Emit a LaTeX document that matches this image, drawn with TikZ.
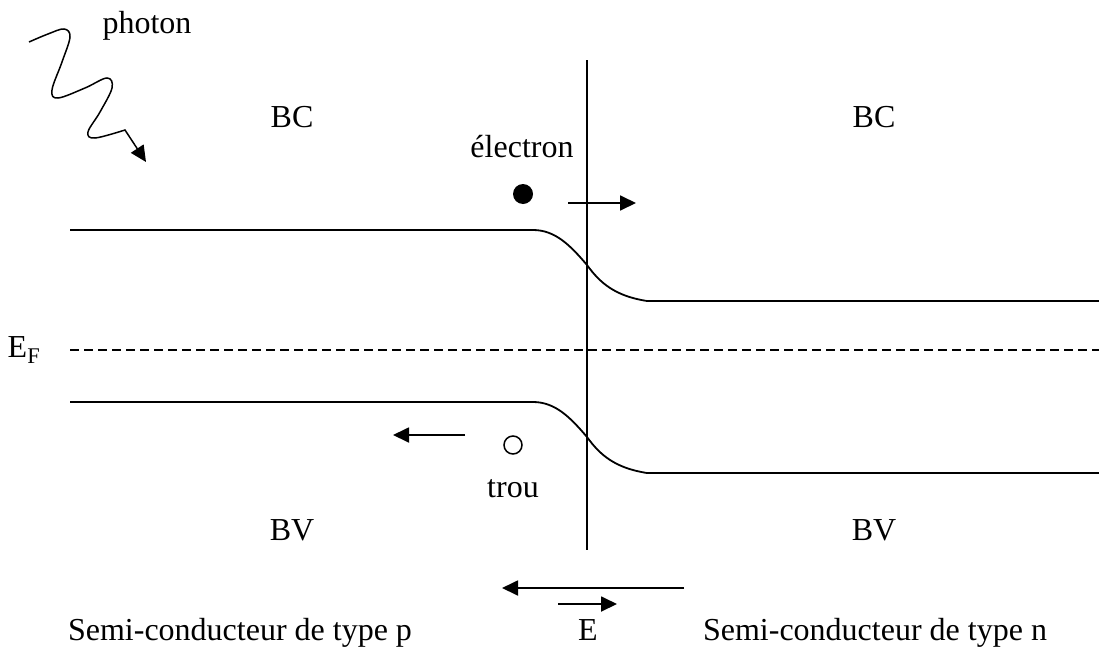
\documentclass[tikz,border=0pt]{standalone}
\usepackage{fontspec}
\setmainfont{Liberation Serif}
\usetikzlibrary{arrows.meta}
\begin{document}
\begin{tikzpicture}[x=1pt,y=-1pt,
  line width=1.8pt,
  lbl/.style={inner sep=0pt,anchor=base,font=\fontsize{32}{38}\selectfont},
  arr/.style={-{Triangle[length=16pt,width=15pt]}},
  band/.style={line width=1.8pt},
  fermi/.style={line width=1.5pt,dash pattern=on 9pt off 5pt}]
\useasboundingbox (0,0) rectangle (1099,653);
% vertical junction line
\coordinate (jt) at (587,60);
\coordinate (jb) at (587,550);
\draw (jt) -- (jb);
% bands
\coordinate (c1) at (70,230);
\coordinate (c2) at (533,230);
\coordinate (c3) at (647,301);
\coordinate (c4) at (1099,301);
\draw[band] (c1) -- (c2) .. controls (555,230) and (570,245) .. (587,265)
  .. controls (600,283) and (615,296) .. (c3) -- (c4);
\coordinate (v1) at (70,402);
\coordinate (v2) at (533,402);
\coordinate (v3) at (647,473);
\coordinate (v4) at (1099,473);
\draw[band] (v1) -- (v2) .. controls (555,402) and (570,417) .. (587,437)
  .. controls (600,455) and (615,468) .. (v3) -- (v4);
% Fermi level
\coordinate (f1) at (70,350);
\coordinate (f2) at (1099,350);
\draw[fermi] (f1) -- (f2);
\node[lbl] (ef) at (24,357) {E\textsubscript{F}};
% labels
\node[lbl] (bc1) at (292,127) {BC};
\node[lbl] (bc2) at (874,127) {BC};
\node[lbl] (bv1) at (292,540) {BV};
\node[lbl] (bv2) at (874,540) {BV};
\node[lbl] (el) at (522,157) {électron};
\node[lbl] (tr) at (513,497) {trou};
\node[lbl] (ph) at (147,33) {photon};
\node[lbl] (sp) at (240,640) {Semi-conducteur de type p};
\node[lbl] (sn) at (875,640) {Semi-conducteur de type n};
\node[lbl] (e) at (588,640) {E};
% electron and hole
\node[circle,fill=black,inner sep=0pt,minimum size=20pt] (edot) at (523,194) {};
\node[circle,draw,line width=1.5pt,inner sep=0pt,minimum size=18pt] (hole) at (513,445) {};
% arrows
\coordinate (ea1) at (568,203);
\coordinate (ea2) at (636,203);
\draw[arr] (ea1) -- (ea2);
\coordinate (ha1) at (465,435);
\coordinate (ha2) at (393,435);
\draw[arr] (ha1) -- (ha2);
\coordinate (la1) at (684,588);
\coordinate (la2) at (502,588);
\draw[arr] (la1) -- (la2);
\coordinate (sa1) at (558,604);
\coordinate (sa2) at (617,604);
\draw[arr] (sa1) -- (sa2);
% photon
\coordinate (p0) at (29,42);
\coordinate (pt) at (146,162);
\draw[arr,line width=1.5pt] plot[smooth,tension=0.6] coordinates {(29,42) (48,34) (64,29) (70,37) (62,62) (52,90) (58,98) (85,88) (107,78) (112,88) (100,112) (88,132) (95,138) (125,130)} -- (pt);
\end{tikzpicture}
\end{document}
